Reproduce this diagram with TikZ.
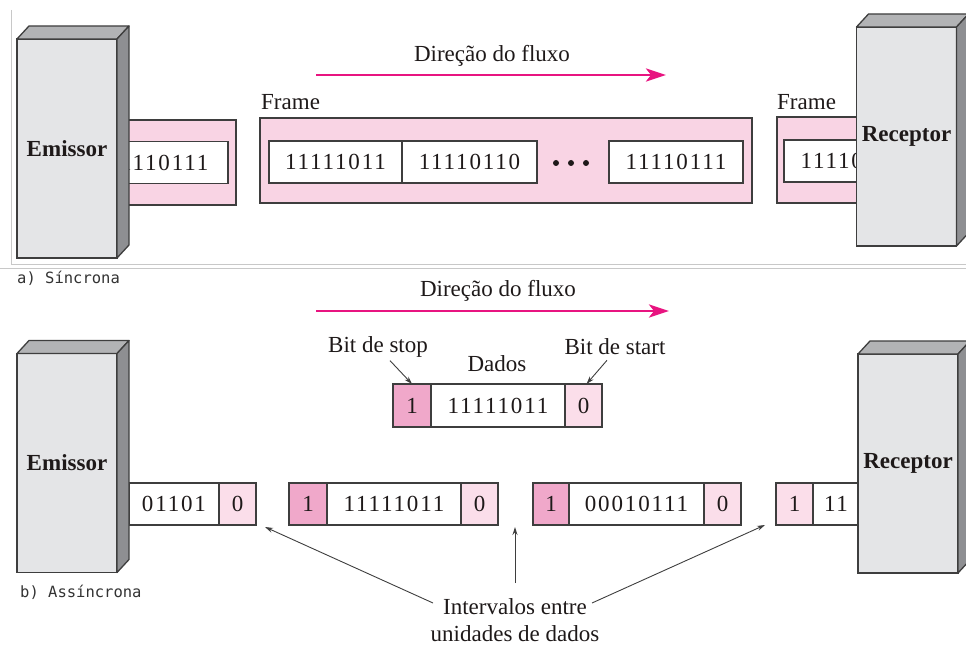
\documentclass[tikz,border=0pt]{standalone}
\usepackage{fontspec}
\setmainfont{Liberation Serif}
\newfontfamily\bitfont[LetterSpace=8]{Liberation Serif}
\newfontfamily\capfont{DejaVu Sans Mono}
\usetikzlibrary{positioning,arrows.meta}
\definecolor{framepink}{RGB}{249,212,228}
\definecolor{stoppink}{RGB}{240,168,202}
\definecolor{startpink}{RGB}{251,222,234}
\definecolor{boxfront}{RGB}{228,229,231}
\definecolor{boxtop}{RGB}{178,179,181}
\definecolor{boxside}{RGB}{142,143,146}
\definecolor{fluxo}{RGB}{232,20,128}
\definecolor{edge}{RGB}{62,62,62}
\definecolor{ink}{RGB}{30,25,25}
\definecolor{rule}{RGB}{200,200,200}

\tikzset{
  station/.style={draw=edge, line width=1.3pt, fill=boxfront, minimum width=100pt,
    minimum height=219pt, outer sep=0pt, text=ink, font=\fontsize{23}{27}\selectfont\bfseries},
  stationtop/.style={draw=edge, line width=1.3pt, fill=boxtop, line join=round},
  stationside/.style={draw=edge, line width=1.3pt, fill=boxside, line join=round},
  framebox/.style={draw=edge, line width=1.1pt, fill=framepink},
  cell/.style={draw=edge, line width=1.1pt, fill=white, minimum height=42pt, inner sep=0pt,
    outer sep=0pt, text=ink, font=\fontsize{23}{27}\bitfont},
  stopcell/.style={cell, fill=stoppink, minimum width=37pt},
  startcell/.style={cell, fill=startpink, minimum width=37pt},
  txt/.style={inner sep=0pt, text=ink, font=\fontsize{23}{27}\selectfont},
  caption/.style={inner sep=0pt, anchor=west, text=black!80, font=\fontsize{15.5}{18}\capfont},
  fluxarrow/.style={draw=fluxo, line width=2.8pt, -{Stealth[length=20pt,width=13pt,inset=5pt]}},
  note/.style={draw=edge, line width=0.9pt, -{Stealth[length=8pt,width=5pt]}},
}

\begin{document}
\begin{tikzpicture}[x=1pt,y=-1pt]
  \useasboundingbox (0,0) rectangle (966,647);
  \clip (0,0) rectangle (966,647);

  % Rules round part a
  \draw[rule, line width=0.8pt] (11,10) -- (11,264) -- (966,264);
  \draw[rule, line width=0.8pt] (0,268) -- (966,268);

  % a) Sincrona: frames
  \draw[framebox] (85,120) rectangle (236,205);
  \node[cell, minimum width=140pt] (fa3) at (158,162.5) {11110111};

  \node[txt, anchor=west] (frameA) at (261,102) {Frame};
  \draw[framebox] (260,118) rectangle (752,203);
  \node[cell, minimum width=133pt] (fb1) at (335.5,162) {11111011};
  \node[cell, minimum width=135pt, right=0pt of fb1] (fb2) {11110110};
  \node[cell, minimum width=134pt] (fbn) at (676,162) {11110111};
  \foreach \dx in {556,571,586}
    \fill[ink] (\dx,163) circle (3);

  \node[txt, anchor=west] (frameC) at (777,102) {Frame};
  \draw[framebox] (777,117) rectangle (880,203);
  \node[cell, minimum width=134pt] (fc1) at (851,161) {11110111};

  \node[txt] (dirA) at (492,56) {Direção do fluxo};
  \coordinate (fluxA0) at (316,75);
  \coordinate (fluxA1) at (666,75);
  \draw[fluxarrow] (fluxA0) -- (fluxA1);

  \node[caption] (capA) at (17,278) {a) Síncrona};

  % b) Assincrona: data units
  \node[cell, minimum width=90pt] (u1d) at (174,504) {01101};
  \node[startcell, right=0pt of u1d] (u1s) {0};

  \node[stopcell, minimum width=38pt] (u2p) at (308,504) {1};
  \node[cell, minimum width=134pt, right=0pt of u2p] (u2d) {11111011};
  \node[startcell, right=0pt of u2d] (u2s) {0};

  \node[stopcell, minimum width=36pt] (u3p) at (551,504) {1};
  \node[cell, minimum width=135pt, right=0pt of u3p] (u3d) {00010111};
  \node[startcell, right=0pt of u3d] (u3s) {0};

  \node[startcell] (u4p) at (794.5,504) {1};
  \node[cell, minimum width=46pt, right=0pt of u4p] (u4d) {11};

  % single unit in detail
  \node[stopcell, minimum width=38pt, minimum height=43pt] (dp) at (412,405.5) {1};
  \node[cell, minimum width=134pt, minimum height=43pt, right=0pt of dp] (dd) {11111011};
  \node[startcell, minimum height=43pt, right=0pt of dd] (ds) {0};
  \node[txt] (stop) at (378,347) {Bit de stop};
  \node[txt] (dados) at (497,364) {Dados};
  \node[txt] (start) at (615,347) {Bit de start};
  \draw[note] (stop.south) ++(12,3) coordinate (stop0) (stop0) -- (dp.north);
  \draw[note] (start.south) ++(-8,5) coordinate (start0) (start0) -- ([xshift=3pt]ds.north);

  \node[txt] (dirB) at (498,291) {Direção do fluxo};
  \coordinate (fluxB0) at (316,311);
  \coordinate (fluxB1) at (669,311);
  \draw[fluxarrow] (fluxB0) -- (fluxB1);

  \node[txt, align=center] (gaps) at (515,620) {Intervalos entre\\unidades de dados};
  \coordinate (gap1) at (265,527);
  \coordinate (gap2) at (515,527);
  \coordinate (gap3) at (765,525);
  \draw[note] (433,603) -- (gap1);
  \draw[note] (gaps.north) ++(0,-15) coordinate (gapsup) (gapsup) -- (gap2);
  \draw[note] (592,603) -- (gap3);

  \node[caption] (capB) at (20,592) {b) Assíncrona};

  % Emissor and Receptor boxes
  \foreach \nm/\px/\py/\txt in {emA/67/148.5/Emissor, reA/906.5/136.5/Receptor,
                                emB/67/463/Emissor, reB/908/463.5/Receptor}{
    \node[station] (\nm) at (\px,\py) {\txt};
    \filldraw[stationtop] (\nm.north west) -- ++(12,-13) -- ++(100,0) -- (\nm.north east) -- cycle;
    \filldraw[stationside] (\nm.north east) -- ++(12,-13) -- ++(0,219) -- (\nm.south east) -- cycle;
  }
\end{tikzpicture}
\end{document}
